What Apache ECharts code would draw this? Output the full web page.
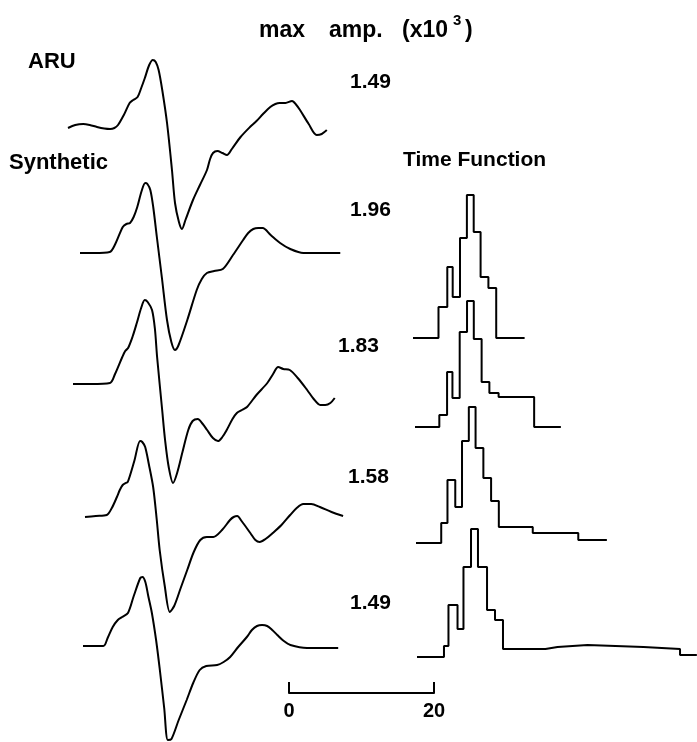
<!DOCTYPE html>
<html>
<head>
<meta charset="utf-8">
<script src="https://cdn.jsdelivr.net/npm/echarts@6/dist/echarts.min.js"></script>
<style>html,body{margin:0;padding:0;background:#fff}#c{width:697px;height:742px}</style>
</head>
<body>
<div id="c"></div>
<script>
// ---- DATA: waveforms as [time (s), amplitude (arbitrary units)] ----
var aru = [[0,-0.1],[1,0.2],[2.1,0.3],[3,0.2],[4,0],[5,-0.15],[5.8,-0.2],[6.4,-0.1],[6.9,0.2],[7.7,1.2],[8.5,2.4],[9.0,2.7],[9.6,3.0],[10.1,3.9],[10.6,4.9],[11.2,6.2],[11.7,6.7],[12.1,6.5],[12.5,5.7],[13.0,3.7],[13.66,0.4],[14.34,-4.3],[14.76,-7.6],[15.3,-9.5],[15.72,-10.2],[16.2,-9.3],[17.24,-7.3],[18.2,-5.8],[19.17,-4.3],[19.6,-3.2],[20.0,-2.6],[20.6,-2.4],[21.3,-2.6],[21.93,-2.8],[22.6,-2.2],[23.8,-1.0],[25.1,0],[26.0,0.6],[26.9,1.3],[27.9,2.0],[28.6,2.3],[29.2,2.4],[30.0,2.4],[30.9,2.6],[31.5,2.2],[32.0,1.7],[33.2,0.3],[34.3,-0.8],[35.0,-0.7],[35.7,-0.3]];
var syn1 = [[0,0],[2,0],[4.1,0.1],[4.8,0.8],[5.9,2.6],[6.4,2.9],[6.9,3.0],[7.4,3.6],[7.9,4.6],[8.5,6.2],[9.0,7.0],[9.3,6.9],[9.7,6.3],[10.1,4.6],[10.6,1.6],[11.3,-2.5],[12.0,-6.7],[12.6,-8.9],[13.1,-9.7],[13.6,-9.2],[14.8,-6.7],[16.1,-3.7],[16.8,-2.6],[17.5,-2.0],[18.5,-1.8],[19.7,-1.6],[21.1,-0.2],[22.5,1.3],[23.2,2.0],[23.9,2.4],[24.6,2.5],[25.2,2.5],[26.3,1.8],[27.6,1.0],[29.0,0.4],[30.8,0],[33,0],[35.9,0]];
var syn2 = [[0,0],[2.5,0],[5.1,0.1],[5.8,1.0],[6.8,2.7],[7.2,3.3],[7.6,3.6],[8.2,4.7],[8.8,6.1],[9.4,7.6],[9.9,8.4],[10.3,8.2],[10.9,7.4],[11.3,5.5],[11.6,2.7],[12.3,-2.6],[12.7,-5.6],[13.2,-8.3],[13.8,-9.9],[14.4,-8.8],[15.1,-6.8],[15.9,-4.6],[16.5,-3.7],[17.2,-3.5],[17.9,-4.0],[18.5,-4.6],[19.3,-5.4],[20.0,-5.7],[20.6,-5.3],[21.2,-4.6],[22.0,-3.5],[22.6,-2.9],[23.3,-2.6],[24.0,-2.3],[25.3,-1.1],[26.8,0.1],[27.6,1.0],[28.3,1.7],[29.0,1.5],[29.9,1.4],[31.0,0.6],[32.3,-0.6],[33.2,-1.5],[34.1,-2.1],[34.8,-2.1],[35.5,-1.9],[36.1,-1.4]];
var syn3 = [[0,-0.1],[1.5,0],[3.0,0.1],[3.7,0.8],[4.4,1.9],[4.8,2.6],[5.2,3.1],[5.6,3.3],[5.9,3.4],[6.8,5.5],[7.6,7.5],[7.9,7.4],[8.3,6.9],[8.8,5.2],[9.4,2.9],[9.9,-0.4],[10.3,-3.4],[11.0,-7.0],[11.7,-9.6],[12.3,-9.0],[13.2,-7.2],[14.1,-5.4],[15.0,-3.6],[15.9,-2.4],[16.8,-2.1],[17.7,-2.1],[18.9,-1.4],[20.0,-0.4],[20.5,-0.1],[21.0,0],[21.6,-0.5],[22.8,-1.7],[23.5,-2.4],[24.1,-2.6],[24.9,-2.3],[25.9,-1.7],[27.1,-0.9],[28.3,0.1],[29.2,0.8],[30.1,1.2],[31.2,1.2],[32.4,0.9],[34.0,0.4],[35.6,0]];
var syn4 = [[0,0],[2.8,0],[3.4,0.8],[4.1,1.9],[4.8,2.6],[5.4,2.9],[6.2,3.3],[7.0,5.0],[7.9,6.8],[8.2,6.9],[8.6,6.4],[9.0,5.0],[9.5,3.3],[10.1,0.5],[10.6,-2.4],[11.2,-6.2],[11.7,-9.4],[12.2,-9.3],[13.2,-7.4],[14.3,-5.4],[15.2,-3.7],[16.1,-2.4],[17.0,-2.0],[18.5,-1.9],[19.4,-1.6],[20.3,-1.1],[21.4,-0.1],[22.6,0.9],[23.3,1.6],[24.0,2.0],[24.7,2.1],[25.4,2.0],[26.1,1.6],[26.8,1.1],[27.7,0.5],[28.6,0.1],[30.9,-0.2],[35.2,-0.2]];

// ---- DATA: source time functions (breakpoints in s, step levels) ----
var tf1T = [0,3.59,4.83,5.59,6.62,7.59,8.55,9.52,10.62,11.72,15.72];
var tf1V = [0,3.1,7.1,4.1,10.0,14.3,10.6,6.1,5.0,0];
var tf2T = [0,3.45,4.55,5.31,6.34,7.38,8.34,9.45,10.55,11.86,16.90,20.69];
var tf2V = [0,1.2,5.5,2.9,9.5,12.6,8.8,4.5,3.4,3.0,0];
var tf3T = [0,3.59,4.48,5.59,6.55,7.52,8.48,9.59,10.69,11.79,16.62,23.10,27.17];
var tf3V = [0,2.0,6.3,3.6,10.2,13.6,9.5,6.5,4.2,1.6,1.0,0.3];
var tf4T = [0,3.72,4.34,5.59,6.41,7.45,8.41,9.66,10.76,11.86,17.72,19.38,23.52,31.24,36.28,38.6];
var tf4V = [0,1.1,5.2,2.8,9.0,12.8,9.0,4.7,3.7,0.8,1.0,1.2,1.0,0.8,0.2];

// ---- DATA: text ----
var ampLabels = ['1.49','1.96','1.83','1.58','1.49'];
var scaleTicks = [0, 20];
var headerWords = ['max', 'amp.', '(x10', '3', ')'];
var traceNames = ['ARU', 'Synthetic'];
var tfTitle = 'Time Function';

// ---- LAYOUT ----
var waves = [aru, syn1, syn2, syn3, syn4];
var waveLeft = [68, 80, 73, 85, 83];
var waveBase = [127, 253, 384, 516, 646];
var waveMin = [-12, -12, -12, -12, -9.5];
var tfs = [[tf1T, tf1V], [tf2T, tf2V], [tf3T, tf3V], [tf4T, tf4V]];
var tfLeft = [413, 415, 416, 417];
var tfBase = [338, 427, 543, 657];
var tfMax = [40, 40, 40, 38.6];
var ampPos = [[350, 82], [350, 210], [338, 346], [348, 477], [350, 603]];
var FONT = '"Liberation Sans", Arial, Helvetica, sans-serif';
var PXS = 7.25; // px per second
var PXU = 10;   // px per amplitude unit
var grids = [], xAxes = [], yAxes = [], series = [];

function stepData(T, V) {
  var d = [];
  for (var i = 0; i < V.length; i++) d.push([T[i], V[i]]);
  d.push([T[T.length - 1], V[V.length - 1]]);
  return d;
}
var lineStyle = { color: '#000', width: 2 };

waves.forEach(function (w, i) {
  var gi = grids.length, ymax = 10, ymin = waveMin[i];
  grids.push({ left: waveLeft[i], top: waveBase[i] - ymax * PXU, width: 40 * PXS, height: (ymax - ymin) * PXU });
  xAxes.push({ gridIndex: gi, type: 'value', min: 0, max: 40, show: false });
  yAxes.push({ gridIndex: gi, type: 'value', min: ymin, max: ymax, show: false });
  series.push({ type: 'line', xAxisIndex: gi, yAxisIndex: gi, data: w, smooth: 0.3,
    showSymbol: false, lineStyle: lineStyle, clip: false, silent: true });
});
tfs.forEach(function (t, i) {
  var gi = grids.length, ymax = 16, ymin = -2;
  grids.push({ left: tfLeft[i], top: tfBase[i] - ymax * PXU, width: tfMax[i] * PXS, height: (ymax - ymin) * PXU });
  xAxes.push({ gridIndex: gi, type: 'value', min: 0, max: tfMax[i], show: false });
  yAxes.push({ gridIndex: gi, type: 'value', min: ymin, max: ymax, show: false });
  series.push({ type: 'line', xAxisIndex: gi, yAxisIndex: gi, data: stepData(t[0], t[1]), step: 'end',
    showSymbol: false, lineStyle: lineStyle, clip: false, silent: true });
});
// scale bar
var sg = grids.length;
grids.push({ left: 289, top: 600, width: 20 * PXS, height: 93 });
xAxes.push({ gridIndex: sg, type: 'value', min: scaleTicks[0], max: scaleTicks[1], interval: scaleTicks[1] - scaleTicks[0],
  axisLine: { show: true, lineStyle: { color: '#000', width: 2 } },
  axisTick: { show: true, inside: true, length: 11, lineStyle: { color: '#000', width: 2 } },
  axisLabel: { show: true, color: '#000', fontSize: 20, fontWeight: 'bold', fontFamily: FONT, margin: 8 },
  splitLine: { show: false } });
yAxes.push({ gridIndex: sg, type: 'value', min: 0, max: 1, show: false });
series.push({ type: 'line', xAxisIndex: sg, yAxisIndex: sg, data: [], silent: true });

function txt(s, x, y, size) {
  return { type: 'text', x: x, y: y, silent: true,
    style: { text: s, fill: '#000', fontSize: size, fontWeight: 'bold', fontFamily: FONT, verticalAlign: 'middle', align: 'left' } };
}
var graphic = [
  txt(headerWords[0], 259, 31, 23),
  txt(headerWords[1], 329, 31, 23),
  txt(headerWords[2], 402, 31, 23),
  txt(headerWords[3], 453, 21, 15),
  txt(headerWords[4], 465, 31, 23),
  txt(traceNames[0], 28, 62, 22),
  txt(traceNames[1], 9, 163, 22),
  txt(tfTitle, 403, 160, 21)
];
ampLabels.forEach(function (s, i) { graphic.push(txt(s, ampPos[i][0], ampPos[i][1], 21)); });

var chart = echarts.init(document.getElementById('c'), null, { renderer: 'canvas' });
chart.setOption({
  animation: false,
  backgroundColor: '#fff',
  grid: grids, xAxis: xAxes, yAxis: yAxes, series: series, graphic: graphic
});
</script>
</body>
</html>
